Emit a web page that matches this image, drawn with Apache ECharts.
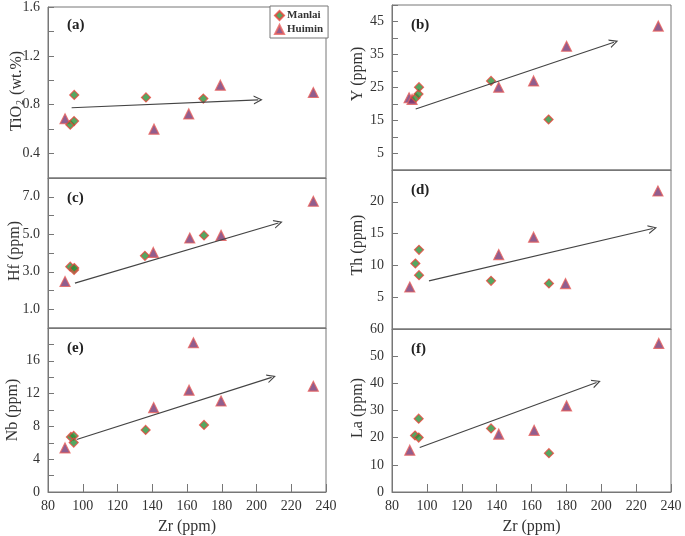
<!DOCTYPE html>
<html>
<head>
<meta charset="utf-8">
<script src="https://cdn.jsdelivr.net/npm/echarts@6/dist/echarts.min.js"></script>
<style>
  html, body { margin: 0; padding: 0; background: #fff; }
  #chart { width: 685px; height: 536px; }
</style>
</head>
<body>
<div id="chart"></div>
<script>
// [Zr, value] pairs
const manlaiTiO2 = [[95.1, 0.88], [92.8, 0.636], [95.0, 0.666], [136.4, 0.86], [169.4, 0.85]];
const huiminTiO2 = [[89.8, 0.685], [141.0, 0.60], [161.0, 0.725], [179.2, 0.96], [232.7, 0.90]];
const manlaiY = [[93.6, 21.9], [95.2, 23.0], [95.5, 25.1], [136.8, 27.0], [169.8, 15.3]];
const huiminY = [[89.8, 21.9], [91.5, 21.4], [141.2, 25.1], [161.2, 27.0], [180.1, 37.5], [232.7, 43.6]];
const manlaiHf = [[92.8, 3.27], [95.0, 3.1], [95.1, 3.2], [135.8, 3.85], [169.8, 4.94]];
const huiminHf = [[89.8, 2.48], [140.6, 4.03], [161.6, 4.8], [179.6, 4.94], [232.7, 6.76]];
const manlaiTh = [[93.4, 10.3], [95.5, 12.45], [95.5, 8.46], [136.8, 7.57], [170.0, 7.15]];
const huiminTh = [[90.2, 6.6], [141.2, 11.7], [161.2, 14.44], [179.5, 7.15], [232.5, 21.7]];
const manlaiNb = [[93.2, 6.72], [94.8, 6.84], [94.8, 6.03], [136.2, 7.57], [169.8, 8.18]];
const huiminNb = [[89.8, 5.37], [140.8, 10.3], [161.2, 12.42], [163.7, 18.2], [179.6, 11.1], [232.7, 12.9]];
const manlaiLa = [[93.2, 20.8], [95.3, 20.05], [95.3, 27.0], [136.8, 23.4], [170.0, 14.3]];
const huiminLa = [[90.2, 15.4], [141.2, 21.3], [161.5, 22.7], [180.1, 31.7], [233.0, 54.7]];

// trend arrows: [start, end]
const arrowTiO2 = [[93.6, 0.775], [201, 0.84]];
const arrowY = [[93.6, 18.5], [207.3, 38.7]];
const arrowHf = [[95.5, 2.39], [212.6, 5.6]];
const arrowTh = [[101.2, 7.57], [229.5, 15.8]];
const arrowNb = [[96.5, 6.4], [208.7, 13.97]];
const arrowLa = [[95.9, 16.4], [197.3, 40.3]];

// tick labels shown on each y axis
const ticksTiO2 = [0.4, 0.8, 1.2, 1.6];
const ticksY = [5, 15, 25, 35, 45];
const ticksHf = [1, 3, 5, 7];
const ticksTh = [5, 10, 15, 20];
const ticksNb = [0, 4, 8, 12, 16];
const ticksLa = [0, 10, 20, 30, 40, 50, 60];
const ticksZr = [80, 100, 120, 140, 160, 180, 200, 220, 240];

const panelLabels = ['(a)', '(b)', '(c)', '(d)', '(e)', '(f)'];
const yNames = ['{t|TiO}{s|2}{t| (wt.%)}', 'Y (ppm)', 'Hf (ppm)', 'Th (ppm)', 'Nb (ppm)', 'La (ppm)'];

const serif = 'Liberation Serif, Times New Roman, serif';
const axisColor = '#777';
const greenFill = '#2b9139';
const redEdge = '#e8453c';
const purpleFill = '#763672';
const pinkEdge = '#e8625e';
const arrowHead = 'path://M0,10 L5,0 L10,10 L8.6,10 L5,2.8 L1.4,10 Z';

// layout: grid box and centre of the rotated y-axis title
const panels = [
  { grid: { left: 48, top: 5, width: 278, height: 173 }, nameAt: [17, 91], min: 0.2, max: 1.6, step: 0.2, ticks: ticksTiO2, dec: 1,
    m: manlaiTiO2, h: huiminTiO2, arrow: arrowTiO2, bottom: false },
  { grid: { left: 392, top: 5, width: 279, height: 165 }, nameAt: [358, 74], min: 0, max: 50, step: 5, ticks: ticksY, dec: 0,
    m: manlaiY, h: huiminY, arrow: arrowY, bottom: false },
  { grid: { left: 48, top: 178, width: 278, height: 150 }, nameAt: [15, 251], min: 0, max: 8, step: 1, ticks: ticksHf, dec: 1,
    m: manlaiHf, h: huiminHf, arrow: arrowHf, bottom: false },
  { grid: { left: 392, top: 170, width: 279, height: 159 }, nameAt: [358, 245], min: 0, max: 25, step: 5, ticks: ticksTh, dec: 0,
    m: manlaiTh, h: huiminTh, arrow: arrowTh, bottom: false },
  { grid: { left: 48, top: 328, width: 278, height: 164 }, nameAt: [13, 410], min: 0, max: 20, step: 2, ticks: ticksNb, dec: 0,
    m: manlaiNb, h: huiminNb, arrow: arrowNb, bottom: true },
  { grid: { left: 392, top: 329, width: 279, height: 163 }, nameAt: [358, 408], min: 0, max: 60, step: 10, ticks: ticksLa, dec: 0,
    m: manlaiLa, h: huiminLa, arrow: arrowLa, bottom: true }
];

const grids = [], xAxes = [], yAxes = [], series = [], titles = [], names = [];

panels.forEach((p, i) => {
  grids.push(Object.assign({ show: true, borderColor: axisColor, borderWidth: 1, backgroundColor: 'transparent' }, p.grid));
  titles.push({
    text: panelLabels[i],
    left: p.grid.left + 14,
    top: p.grid.top + 8,
    textStyle: { fontFamily: serif, fontSize: 15, fontWeight: 'bold', color: '#222' }
  });
  // y-axis title, rotated
  names.push({
    type: 'text',
    x: p.nameAt[0],
    y: p.nameAt[1],
    rotation: Math.PI / 2,
    style: {
      text: yNames[i],
      fill: '#333',
      font: '16px ' + serif,
      align: 'center',
      verticalAlign: 'middle',
      rich: {
        t: { fontFamily: serif, fontSize: 16, fill: '#333' },
        s: { fontFamily: serif, fontSize: 10, fill: '#333', padding: [7, 1, 0, 1] }
      }
    }
  });
  xAxes.push({
    gridIndex: i,
    type: 'value',
    min: 80,
    max: 240,
    interval: 20,
    name: p.bottom ? 'Zr (ppm)' : '',
    nameLocation: 'middle',
    nameGap: 27,
    nameTextStyle: { fontFamily: serif, fontSize: 16, color: '#333' },
    axisLine: { show: true, lineStyle: { color: axisColor } },
    axisTick: { show: p.bottom, inside: true, length: 8, lineStyle: { color: axisColor } },
    axisLabel: {
      show: p.bottom,
      margin: 7,
      fontFamily: serif,
      fontSize: 14,
      color: '#333',
      formatter: v => (ticksZr.indexOf(v) >= 0 ? String(v) : '')
    },
    splitLine: { show: false }
  });
  yAxes.push({
    gridIndex: i,
    type: 'value',
    min: p.min,
    max: p.max,
    interval: p.step,
    axisLine: { show: true, lineStyle: { color: axisColor } },
    axisTick: { show: true, inside: true, length: 6, lineStyle: { color: axisColor } },
    axisLabel: {
      margin: 8,
      fontFamily: serif,
      fontSize: 14,
      color: '#333',
      formatter: v => {
        const hit = p.ticks.some(t => Math.abs(t - v) < 1e-6);
        return hit ? v.toFixed(p.dec) : '';
      }
    },
    splitLine: { show: false }
  });
  series.push({
    name: 'Huimin',
    type: 'scatter',
    xAxisIndex: i,
    yAxisIndex: i,
    symbol: 'triangle',
    symbolSize: 10,
    itemStyle: { color: purpleFill, borderColor: pinkEdge, borderWidth: 1.2 },
    data: p.h,
    z: 3
  });
  series.push({
    name: 'Manlai',
    type: 'scatter',
    xAxisIndex: i,
    yAxisIndex: i,
    symbol: 'diamond',
    symbolSize: 9,
    itemStyle: { color: greenFill, borderColor: redEdge, borderWidth: 1.2 },
    data: p.m,
    z: 4,
    markLine: {
      silent: true,
      symbol: ['none', arrowHead],
      symbolSize: [9, 9],
      label: { show: false },
      lineStyle: { color: '#444', width: 1.2, type: 'solid' },
      data: [[{ coord: p.arrow[0] }, { coord: p.arrow[1] }]]
    }
  });
});

const myChart = echarts.init(document.getElementById('chart'));
myChart.setOption({
  animation: false,
  title: titles,
  graphic: names,
  legend: {
    data: ['Manlai', 'Huimin'],
    orient: 'vertical',
    left: 270,
    top: 6,
    padding: [4, 5, 3, 4],
    itemGap: 3,
    itemWidth: 9,
    itemHeight: 9,
    borderColor: axisColor,
    borderWidth: 1,
    backgroundColor: '#fff',
    textStyle: { fontFamily: serif, fontSize: 11, fontWeight: 'bold', color: '#333', padding: [0, 0, 0, -2] }
  },
  grid: grids,
  xAxis: xAxes,
  yAxis: yAxes,
  series: series
});
window.addEventListener('resize', function () {
  myChart.resize();
});
</script>
</body>
</html>
